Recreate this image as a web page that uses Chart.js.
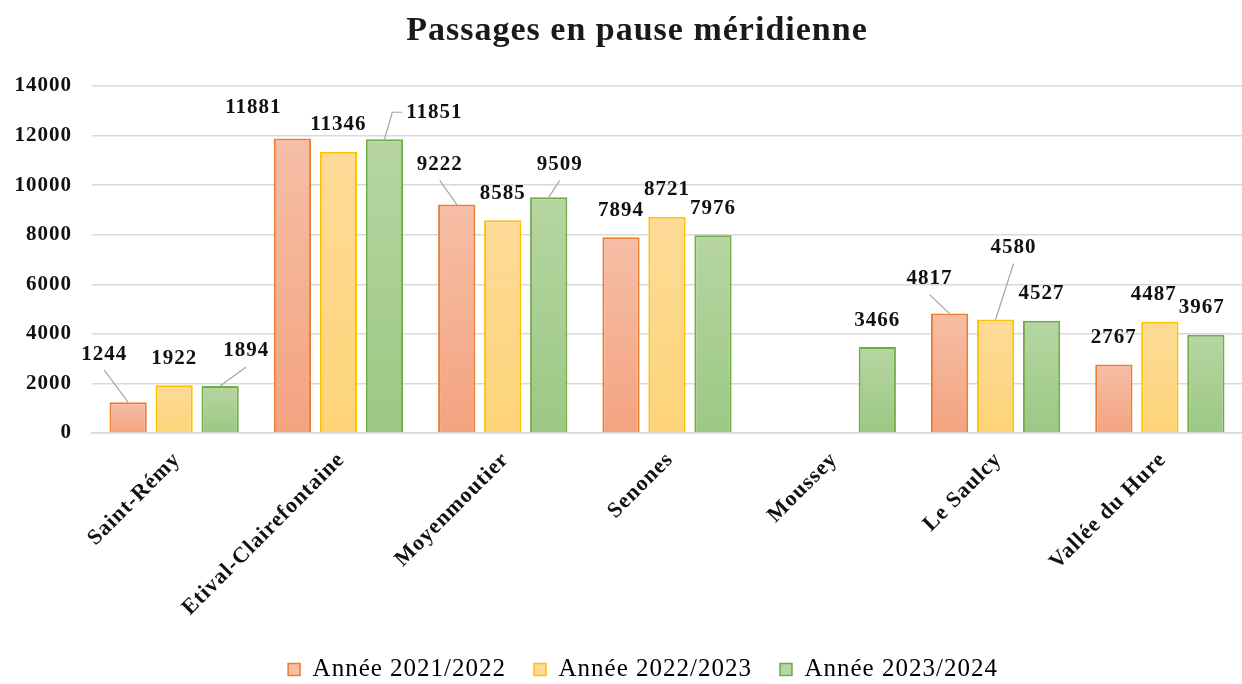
<!DOCTYPE html>
<html lang="fr">
<head>
<meta charset="UTF-8">
<title>Passages en pause méridienne</title>
<script src="https://cdn.jsdelivr.net/npm/chart.js"></script>
<style>
  html, body { margin: 0; padding: 0; background: #fff; }
  #wrap { width: 1242px; height: 684px; }
</style>
</head>
<body>
<div id="wrap"><canvas id="chart"></canvas></div>
<script>
// données
const communes = ['Saint-Rémy', 'Etival-Clairefontaine', 'Moyenmoutier', 'Senones', 'Moussey', 'Le Saulcy', 'Vallée du Hure'];
const annee2122 = [1244, 11881, 9222, 7894, null, 4817, 2767];
const annee2223 = [1922, 11346, 8585, 8721, null, 4580, 4487];
const annee2324 = [1894, 11851, 9509, 7976, 3466, 4527, 3967];
const seriesNames = ['Année 2021/2022', 'Année 2022/2023', 'Année 2023/2024'];
const yTicks = [0, 2000, 4000, 6000, 8000, 10000, 12000, 14000];

// couleurs (bord, haut du dégradé, bas du dégradé)
const couleurs = [
  { border: '#ed7d31', top: '#f5bea6', bottom: '#f4a380' },
  { border: '#ffc000', top: '#fddb98', bottom: '#fed478' },
  { border: '#70ad47', top: '#b6d5a2', bottom: '#9cc884' }
];

// étiquettes déplacées à la main (comme dans Excel) : [dx, dy, trait de rappel]
const decalages = [
  [[-24, -21, 'bas'], [-39, -4, ''], [-17, -13, 'bas'], [0, 0, ''], null, [-20, -8, 'bas'], [0, 0, '']],
  [[0, 0, ''], [0, 0, ''], [0, 0, ''], [0, 0, ''], null, [18, -45, 'bas'], [-6, 0, '']],
  [[26, -8, 'bas'], [50, 0, 'cote'], [11, -6, 'bas'], [0, 0, ''], [0, 0, ''], [0, 0, ''], [-4, 0, '']]
];

const SERIF = "'Liberation Serif', 'DejaVu Serif', serif";

function degradeBarre(ctx, i) {
  const chart = ctx.chart;
  const c = couleurs[i];
  if (!chart.chartArea || ctx.type !== 'data') return c.bottom;
  const y = chart.scales.y;
  const v = ctx.raw;
  if (v == null) return c.bottom;
  const top = y.getPixelForValue(v);
  const base = y.getPixelForValue(0);
  const g = chart.ctx.createLinearGradient(0, top, 0, base);
  g.addColorStop(0, c.top);
  g.addColorStop(1, c.bottom);
  return g;
}

// le Garamond de l'original est plus large : on espace un peu les lettres
const espacement = {
  id: 'espacement',
  beforeUpdate(chart) { chart.ctx.letterSpacing = '1px'; },
  beforeLayout(chart) { chart.ctx.letterSpacing = '1px'; },
  beforeDraw(chart) { chart.ctx.letterSpacing = '1px'; },
  // légende un peu décalée vers la droite et vers le bas, comme dans l'original
  afterLayout(chart) {
    const lg = chart.legend;
    if (!lg) return;
    lg.left += 22; lg.right += 22;
    lg.top += 8; lg.bottom += 8;
  }
};

// titre dessiné à la main (un peu décalé à droite comme l'original)
const titrePlugin = {
  id: 'titre',
  afterDraw(chart) {
    const ctx = chart.ctx;
    ctx.save();
    ctx.letterSpacing = '1px';
    ctx.font = "bold 34px " + SERIF;
    ctx.fillStyle = '#1a1a1a';
    ctx.textAlign = 'center';
    ctx.textBaseline = 'middle';
    ctx.fillText('Passages en pause méridienne', chart.width / 2 + 16, 31);
    ctx.restore();
  }
};

// valeurs au-dessus des barres + traits de rappel
const etiquettesPlugin = {
  id: 'etiquettes',
  afterDatasetsDraw(chart) {
    const ctx = chart.ctx;
    ctx.save();
    ctx.letterSpacing = '1px';
    ctx.font = "bold 21px " + SERIF;
    ctx.textAlign = 'center';
    ctx.textBaseline = 'middle';
    chart.data.datasets.forEach((ds, di) => {
      const meta = chart.getDatasetMeta(di);
      meta.data.forEach((bar, i) => {
        const v = ds.data[i];
        if (v == null) return;
        const d = decalages[di][i] || [0, 0, ''];
        const lx = bar.x + d[0];
        const ly = bar.y - 27 + d[1];
        const txt = String(v);
        if (d[2]) {
          ctx.strokeStyle = '#a6a6a6';
          ctx.lineWidth = 1.2;
          ctx.beginPath();
          ctx.moveTo(bar.x, bar.y);
          if (d[2] === 'cote') {
            const w = ctx.measureText(txt).width / 2 + 4;
            ctx.lineTo(lx - w - 10, ly);
            ctx.lineTo(lx - w, ly);
          } else {
            ctx.lineTo(lx, ly + 16);
          }
          ctx.stroke();
        }
        ctx.fillStyle = '#111';
        ctx.fillText(txt, lx, ly);
      });
    });
    ctx.restore();
  }
};

const series = [annee2122, annee2223, annee2324];

new Chart(document.getElementById('chart'), {
  type: 'bar',
  data: {
    labels: communes,
    datasets: series.map((vals, i) => ({
      label: seriesNames[i],
      data: vals,
      backgroundColor: (ctx) => degradeBarre(ctx, i),
      borderColor: couleurs[i].border,
      borderWidth: 2,
      borderSkipped: 'bottom',
      categoryPercentage: 0.84,
      barPercentage: 0.81
    }))
  },
  options: {
    responsive: true,
    maintainAspectRatio: false,
    animation: false,
    layout: { padding: { top: 86, right: 0, left: 0, bottom: 0 } },
    plugins: {
      title: { display: false },
      tooltip: { enabled: false },
      legend: {
        position: 'bottom',
        labels: {
          font: { family: SERIF, size: 25 },
          color: '#111',
          boxWidth: 12,
          boxHeight: 12,
          padding: 28,
          generateLabels(chart) {
            return chart.data.datasets.map((ds, i) => ({
              text: ds.label,
              fillStyle: couleurs[i].top,
              strokeStyle: couleurs[i].border,
              lineWidth: 1.5,
              datasetIndex: i,
              hidden: false
            }));
          }
        }
      }
    },
    scales: {
      x: {
        grid: { display: false },
        border: { color: '#d9d9d9', width: 1.5 },
        afterFit(scale) { scale.height = 188; },
        ticks: {
          minRotation: 45,
          maxRotation: 45,
          autoSkip: false,
          labelOffset: 3,
          padding: 6,
          color: '#111',
          font: { family: SERIF, size: 22, weight: 'bold' }
        }
      },
      y: {
        min: 0,
        max: 14000,
        afterBuildTicks(scale) { scale.ticks = yTicks.map(v => ({ value: v })); },
        afterFit(scale) { scale.width = 92; },
        grid: { color: '#d9d9d9', lineWidth: 1.5, drawTicks: false },
        border: { display: false },
        ticks: {
          padding: 20,
          color: '#111',
          callback: (v) => String(v),
          font: { family: SERIF, size: 21, weight: 'bold' }
        }
      }
    }
  },
  plugins: [espacement, titrePlugin, etiquettesPlugin]
});
</script>
</body>
</html>
